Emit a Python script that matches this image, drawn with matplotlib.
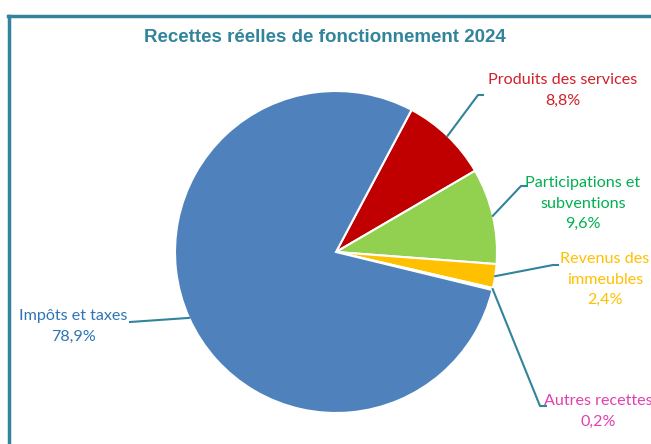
import numpy as np
import matplotlib.pyplot as plt
from matplotlib.lines import Line2D

labels = ["Produits des services", "Participations et\nsubventions", "Revenus des\nimmeubles",
          "Autres recettes", "Impôts et taxes"]
values = [8.8, 9.6, 2.4, 0.2, 78.9]
pct_text = ["8,8%", "9,6%", "2,4%", "0,2%", "78,9%"]
colors = ["#C00000", "#92D050", "#FFC000", "#E040B0", "#4F81BD"]
text_colors = ["#D0202A", "#00B050", "#FFC000", "#E040B0", "#2E75B6"]

W, H = 651, 444
teal = "#31849B"

fig = plt.figure(figsize=(W / 100, H / 100), dpi=100)
ax = fig.add_axes([0, 0, 1, 1])

cx, cy, r = 336, H - 252, 161
start = 62
wedges, _ = ax.pie(values, colors=colors, startangle=start, counterclock=False,
                   radius=r, center=(cx, cy), frame=True,
                   wedgeprops=dict(edgecolor="white", linewidth=1.5))
ax.set_xlim(0, W)
ax.set_ylim(0, H)
ax.set_aspect("equal")
ax.axis("off")

# label layout: (text x, first line y, elbow x, elbow y, horizontal end x) in image px
layout = [
    (563, 80, 478, 95, 483),
    (583, 183, 521, 186, 526),
    (605, 259, 553, 265, 558),
    (598, 401, 540, 406, 546),
    (73, 316, None, None, 130),
]

font = ["Lato", "DejaVu Sans"]
for w, lab, pct, tc, (tx, ty, ex, ey, hx) in zip(wedges, labels, pct_text, text_colors, layout):
    mid = np.deg2rad((w.theta1 + w.theta2) / 2)
    px, py = cx + r * np.cos(mid), cy + r * np.sin(mid)
    if ex is None:
        ax.plot([px, hx], [py, H - 322], color=teal, lw=1.5, zorder=1)
    else:
        ax.plot([px, ex, hx], [py, H - ey, H - ey], color=teal, lw=1.5, zorder=1)
    lines = lab.split("\n") + [pct]
    for i, ln in enumerate(lines):
        ax.text(tx, H - ty - 20.5 * i, ln, ha="center", va="center", color=tc,
                fontsize=11.6, family=font)

fig.text(325 / W, 1 - 37 / H, "Recettes réelles de fonctionnement 2024", ha="center",
         va="center", color=teal, fontsize=13.5, fontweight="bold",
         family=["Liberation Sans", "DejaVu Sans"])

fig.add_artist(Line2D([8 / W, 1], [1 - 16 / H, 1 - 16 / H], color=teal, lw=2.5,
                      transform=fig.transFigure))
fig.add_artist(Line2D([9 / W, 9 / W], [0, 1 - 16 / H], color=teal, lw=2.5,
                      transform=fig.transFigure))

fig.savefig("out.png", dpi=100)
